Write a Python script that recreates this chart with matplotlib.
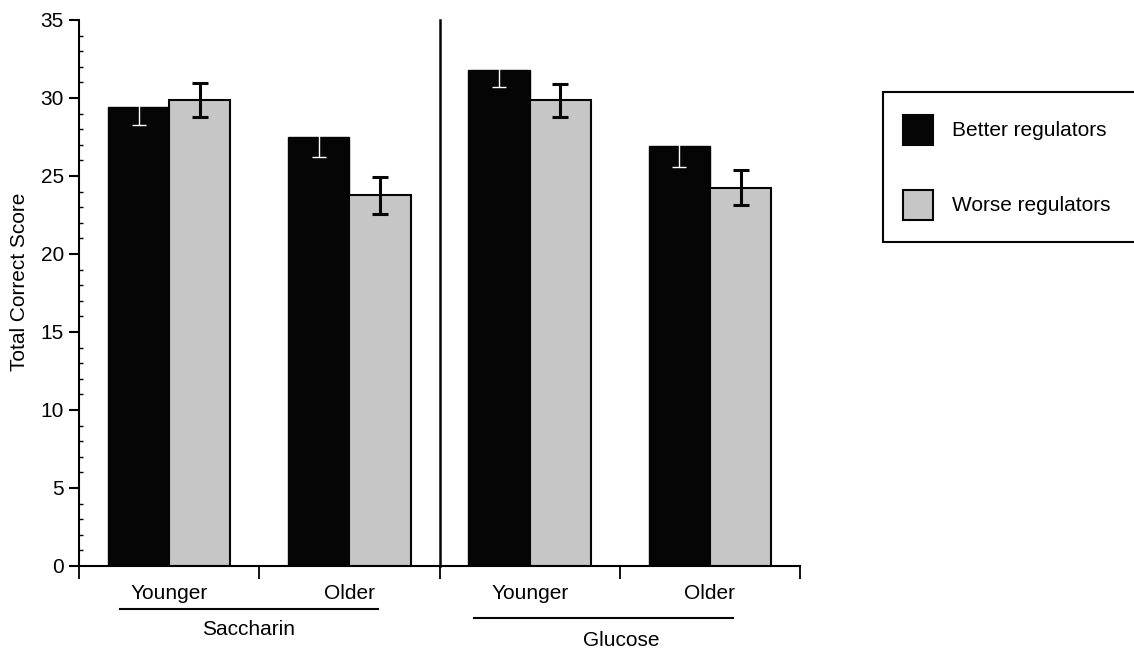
import matplotlib.pyplot as plt
from matplotlib.patches import Rectangle
import numpy as np

plt.rcParams['font.family'] = ['Liberation Sans', 'DejaVu Sans']

# values
drinks = ['Saccharin', 'Glucose']
ages = ['Younger', 'Older', 'Younger', 'Older']
series = ['Better regulators', 'Worse regulators']
better = [29.4, 27.5, 31.8, 26.9]
better_err = [1.15, 1.3, 1.1, 1.3]
worse = [29.85, 23.75, 29.85, 24.25]
worse_err = [1.1, 1.2, 1.05, 1.1]

black = '#050505'
grey = '#c6c6c6'

fig = plt.figure(figsize=(11.34, 6.54), dpi=100)
ax = fig.add_axes([0.0697, 0.1346, 0.6358, 0.8349])

x = np.arange(len(ages)) + 0.5
w = 0.34
ax.bar(x - w / 2, better, w, color=black, edgecolor=black, linewidth=1)
ax.bar(x + w / 2, worse, w, color=grey, edgecolor=black, linewidth=1.5)
ax.errorbar(x - w / 2, better, yerr=better_err, fmt='none', ecolor='white',
            elinewidth=1, capsize=5, capthick=1)
ax.errorbar(x + w / 2, worse, yerr=worse_err, fmt='none', ecolor=black,
            elinewidth=2.2, capsize=6, capthick=2.2)

ax.set_xlim(0, 4)
ax.set_ylim(0, 35)
ax.set_yticks(range(0, 36, 5))
ax.set_yticks(range(0, 36), minor=True)
ax.set_xticks(range(0, 5))
ax.set_xticklabels([])
for s in ['top', 'right']:
    ax.spines[s].set_visible(False)
for s in ['left', 'bottom']:
    ax.spines[s].set_linewidth(1.5)
ax.tick_params(axis='y', which='major', direction='out', length=7, width=1.5,
               labelsize=15, pad=4)
ax.tick_params(axis='y', which='minor', direction='in', length=3, width=1)
ax.tick_params(axis='x', which='major', direction='out', length=9, width=1.3)

# divider between the two drinks
ax.plot([2, 2], [0, 35], color=black, lw=1.8, clip_on=False)

# age labels, underlines and drink names
trans = ax.get_xaxis_transform()
for xi, lab in zip(x, ages):
    ax.text(xi, -0.05, lab, transform=trans, ha='center', va='center', fontsize=15)
under_spans = [(0.23, 1.66), (2.19, 3.63)]
under_y = [-0.079, -0.095]
name_x = [0.94, 3.01]
name_y = [-0.117, -0.136]
for (x0, x1), uy, nx, ny, name in zip(under_spans, under_y, name_x, name_y, drinks):
    ax.plot([x0, x1], [uy, uy], transform=trans, color=black, lw=1.5, clip_on=False)
    ax.text(nx, ny, name, transform=trans, ha='center', va='center', fontsize=15)

ax.set_ylabel('Total Correct Score', fontsize=15)
ax.yaxis.set_label_coords(-0.07, 0.52)

# legend box
fig.patches.append(Rectangle((0.7787, 0.63), 0.25, 0.229, transform=fig.transFigure,
                             facecolor='white', edgecolor=black, lw=1.5))
sq = 30 / 1134
sqh = 30 / 654
for cy, col, lab in zip([130, 205], [black, grey], series):
    yc = 1 - cy / 654
    fig.patches.append(Rectangle((903 / 1134, yc - sqh / 2), sq, sqh,
                                 transform=fig.transFigure, facecolor=col,
                                 edgecolor=black, lw=1.5))
    fig.text(952 / 1134, yc, lab, ha='left', va='center', fontsize=15)

fig.savefig('out.png', dpi=100)
